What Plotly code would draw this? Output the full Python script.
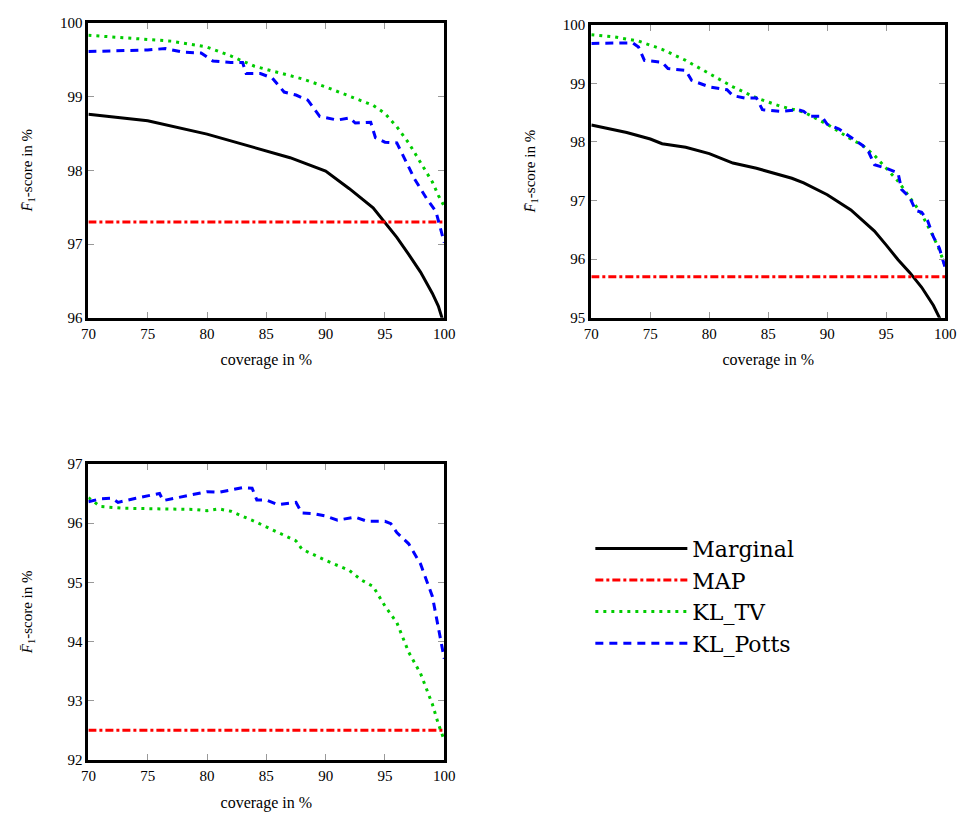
import plotly.graph_objects as go

# ---------------- data ----------------
# Panel 1
p1_marg_x = [70, 75, 80, 85, 87, 90, 92, 94, 95, 96, 97, 98, 99, 99.5, 100]
p1_marg_y = [98.76, 98.67, 98.49, 98.26, 98.17, 97.99, 97.75, 97.49, 97.29, 97.09, 96.86, 96.62, 96.33, 96.16, 95.9]
p1_map = 97.3
p1_tv_x = [70, 75, 77, 80, 82, 84, 86, 88, 90, 92, 94, 95, 96, 97, 98, 99, 99.5, 100]
p1_tv_y = [99.83, 99.78, 99.75, 99.67, 99.55, 99.41, 99.33, 99.24, 99.13, 99.0, 98.88, 98.77, 98.59, 98.37, 98.11, 97.84, 97.66, 97.51]
p1_potts_x = [70, 73, 75, 76.5, 78, 79.5, 80.5, 82, 83, 83.3, 84.5, 85.5, 86.5, 87.5, 88.5, 89.5, 91, 92, 92.5, 93.8, 94.2, 95, 96, 96.8, 97.5, 98.5, 99.3, 99.6, 100]
p1_potts_y = [99.61, 99.62, 99.63, 99.65, 99.6, 99.59, 99.48, 99.46, 99.46, 99.31, 99.31, 99.25, 99.06, 99.02, 98.95, 98.73, 98.68, 98.71, 98.64, 98.65, 98.44, 98.38, 98.37, 98.11, 97.88, 97.62, 97.44, 97.26, 97.02]

# Panel 2
p2_marg_x = [70, 72, 73, 75, 76, 78, 80, 81, 82, 84, 85, 87, 88, 90, 92, 93, 94, 95, 96, 97, 98, 99, 99.5, 100]
p2_marg_y = [98.29, 98.21, 98.16, 98.05, 97.97, 97.91, 97.80, 97.72, 97.64, 97.55, 97.49, 97.38, 97.30, 97.10, 96.84, 96.66, 96.48, 96.24, 95.99, 95.77, 95.52, 95.21, 95.0, 94.8]
p2_map = 95.7
p2_tv_x = [70, 72, 74, 76, 78, 80, 82, 84, 86, 88, 90, 92, 93, 94, 95, 96, 97, 98, 99, 99.5, 100]
p2_tv_y = [99.83, 99.79, 99.72, 99.58, 99.39, 99.16, 98.94, 98.75, 98.61, 98.51, 98.30, 98.05, 97.94, 97.77, 97.55, 97.33, 97.05, 96.77, 96.38, 96.16, 95.88]
p2_potts_x = [70, 72, 73.5, 74, 74.5, 76, 76.5, 78, 78.5, 80, 81.5, 82, 83, 84, 84.5, 86, 87.5, 88, 88.5, 89.5, 90, 91, 92, 93, 93.5, 94, 95, 96, 96.3, 97, 97.5, 98, 98.5, 99, 99.5, 100]
p2_potts_y = [99.68, 99.69, 99.69, 99.62, 99.39, 99.36, 99.25, 99.22, 99.05, 98.94, 98.89, 98.79, 98.75, 98.75, 98.55, 98.52, 98.55, 98.52, 98.44, 98.44, 98.30, 98.22, 98.08, 97.94, 97.83, 97.61, 97.55, 97.47, 97.19, 97.05, 96.83, 96.80, 96.66, 96.38, 96.19, 95.85]

# Panel 3
p3_map = 92.5
p3_tv_x = [70, 71, 73, 75, 77, 79, 80, 81, 82, 84, 86, 87.5, 88, 90, 92, 93, 94, 95, 96, 97, 98, 99, 99.5, 100]
p3_tv_y = [96.43, 96.28, 96.25, 96.24, 96.24, 96.23, 96.21, 96.24, 96.20, 96.03, 95.84, 95.70, 95.56, 95.37, 95.20, 95.04, 94.93, 94.60, 94.32, 93.82, 93.46, 92.94, 92.61, 92.33]
p3_potts_x = [70, 71, 72, 72.5, 74, 76, 76.3, 78, 80, 81, 83, 83.8, 84.2, 85, 86, 87.5, 88, 89, 90, 91, 92.5, 93.5, 95, 95.5, 96, 97, 98, 99, 99.5, 100]
p3_potts_y = [96.36, 96.41, 96.42, 96.35, 96.42, 96.50, 96.38, 96.45, 96.53, 96.52, 96.60, 96.59, 96.39, 96.39, 96.31, 96.35, 96.17, 96.16, 96.12, 96.05, 96.10, 96.03, 96.03, 95.99, 95.84, 95.65, 95.31, 94.76, 94.21, 93.71]

x_range = [70, 100]
x_ticks = [70, 75, 80, 85, 90, 95, 100]
p1_yticks = [96, 97, 98, 99, 100]
p2_yticks = [95, 96, 97, 98, 99, 100]
p3_yticks = [92, 93, 94, 95, 96, 97]

names = ["Marginal", "MAP", "KL_TV", "KL_Potts"]

# ---------------- styles ----------------
FONT = "Liberation Serif"
LEGFONT = "DejaVu Serif"
LW = 3
style = {
    "Marginal": dict(color="black", width=LW, dash="solid"),
    "MAP": dict(color="rgb(255,0,0)", width=LW, dash="8px,3px,3px,3px"),
    "KL_TV": dict(color="rgb(0,204,0)", width=LW, dash="3px,5px"),
    "KL_Potts": dict(color="rgb(0,0,255)", width=LW, dash="8px,6px"),
}

fig = go.Figure()

def add(name, x, y, xa, ya, show):
    fig.add_trace(go.Scatter(x=x, y=y, mode="lines", name=name, legendgroup=name,
                             showlegend=show, line=style[name], xaxis=xa, yaxis=ya,
                             cliponaxis=True))

# panel 1
add("Marginal", p1_marg_x, p1_marg_y, "x", "y", True)
add("MAP", x_range, [p1_map, p1_map], "x", "y", True)
add("KL_TV", p1_tv_x, p1_tv_y, "x", "y", True)
add("KL_Potts", p1_potts_x, p1_potts_y, "x", "y", True)
# panel 2
add("Marginal", p2_marg_x, p2_marg_y, "x2", "y2", False)
add("MAP", x_range, [p2_map, p2_map], "x2", "y2", False)
add("KL_TV", p2_tv_x, p2_tv_y, "x2", "y2", False)
add("KL_Potts", p2_potts_x, p2_potts_y, "x2", "y2", False)
# panel 3
add("MAP", x_range, [p3_map, p3_map], "x3", "y3", False)
add("KL_TV", p3_tv_x, p3_tv_y, "x3", "y3", False)
add("KL_Potts", p3_potts_x, p3_potts_y, "x3", "y3", False)

ytitle = "<i>F\u0304</i><sub>1</sub>-score in %"

def xaxis(domain, anchor):
    return dict(domain=domain, anchor=anchor, range=x_range, tickvals=x_ticks,
                showline=True, linewidth=3, linecolor="black", mirror="ticks",
                ticks="inside", ticklen=6, tickwidth=1, tickcolor="#999999",
                showgrid=False, zeroline=False,
                tickfont=dict(family=FONT, size=15, color="black"),
                title=dict(text="coverage in %", font=dict(family=FONT, size=16, color="black"), standoff=14))

def yaxis(domain, anchor, rng, ticks, standoff):
    return dict(domain=domain, anchor=anchor, range=rng, tickvals=ticks,
                showline=True, linewidth=3, linecolor="black", mirror="ticks",
                ticks="inside", ticklen=6, tickwidth=1, tickcolor="#999999",
                showgrid=False, zeroline=False,
                tickfont=dict(family=FONT, size=15, color="black"),
                title=dict(text=ytitle, font=dict(family=FONT, size=15, color="black"), standoff=standoff))

W, H = 968, 815
fig.update_layout(
    width=W, height=H, autosize=False,
    margin=dict(l=0, r=0, t=0, b=0),
    paper_bgcolor="white", plot_bgcolor="white",
    font=dict(family=FONT, color="black"),
    xaxis=xaxis([82 / W, 445 / W], "y"),
    yaxis=yaxis([1 - 316 / H, 1 - 15 / H], "x", [96, 100], p1_yticks, 24),
    xaxis2=xaxis([595 / W, 956 / W], "y2"),
    yaxis2=yaxis([1 - 316 / H, 1 - 17 / H], "x2", [95, 100], p2_yticks, 24),
    xaxis3=xaxis([82 / W, 445 / W], "y3"),
    yaxis3=yaxis([1 - 767 / H, 1 - 465 / H], "x3", [92, 97], p3_yticks, 32),
    legend=dict(x=594 / W, y=1 - 530 / H, xanchor="left", yanchor="top",
                font=dict(family=LEGFONT, size=22, color="black"),
                bgcolor="rgba(0,0,0,0)", borderwidth=0, itemwidth=92,
                tracegroupgap=0, traceorder="normal"),
)

fig.write_html("out.html")
